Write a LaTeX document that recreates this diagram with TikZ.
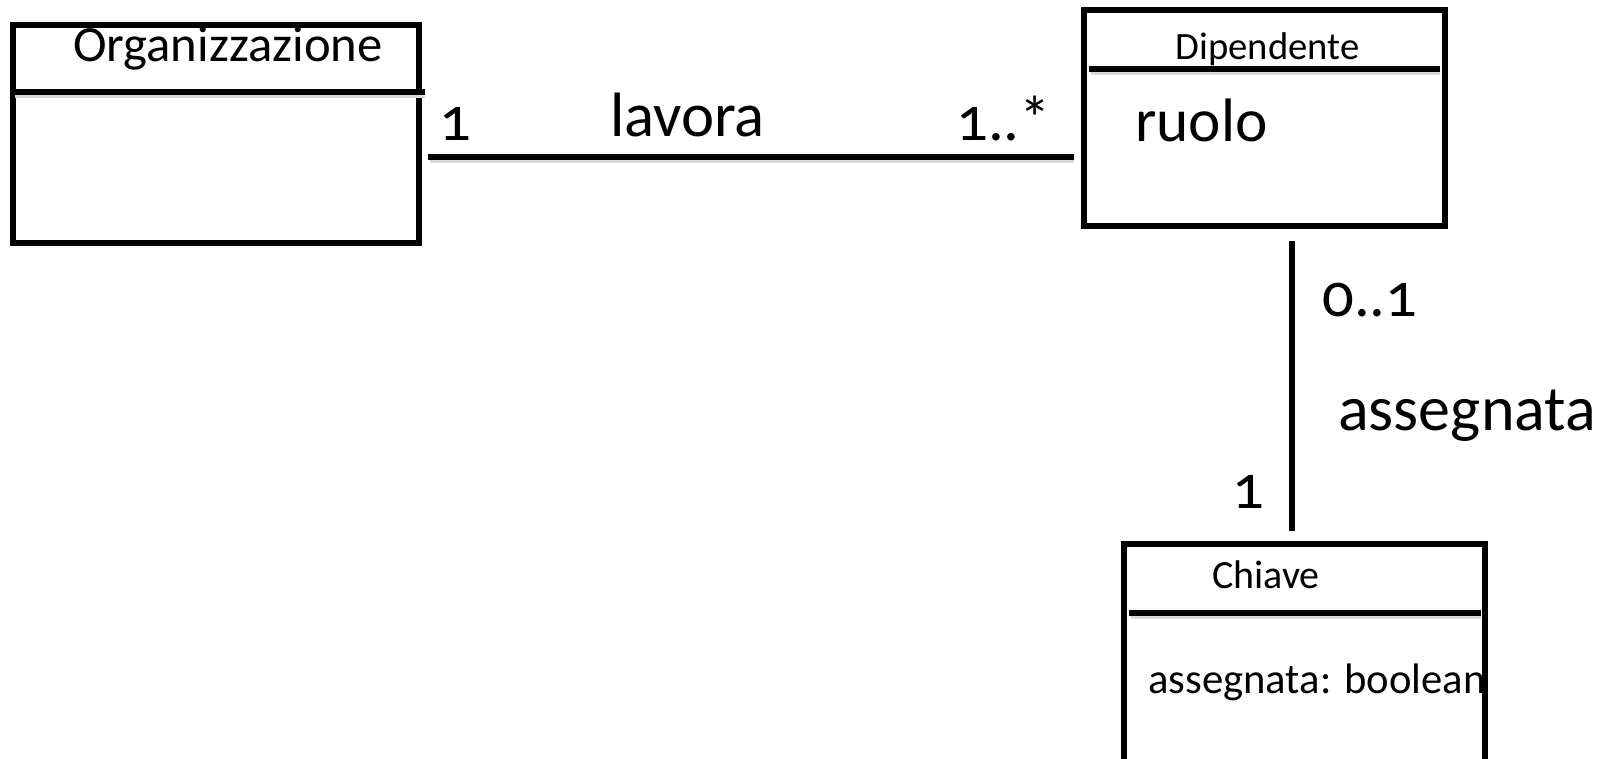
\documentclass[tikz,border=0pt]{standalone}
\usepackage{fontspec}
\usetikzlibrary{calc}
\setmainfont{Carlito}
\newfontfamily\numfont{Carlito}[Numbers=OldStyle]
\begin{document}
\begin{tikzpicture}[x=0.75pt,y=-0.75pt,
  classbox/.style={draw,line width=3.8pt,rectangle,inner sep=0pt},
  divider/.style={line width=3.8pt},
  shadowline/.style={line width=3pt,draw=black!15},
  conn/.style={line width=3.8pt},
  title/.style={inner sep=0pt,anchor=base,font=\fontsize{30pt}{36pt}\selectfont},
  big/.style={inner sep=0pt,anchor=base west,font=\fontsize{47pt}{56pt}\selectfont},
  mult/.style={inner sep=0pt,anchor=base west,font=\numfont\fontsize{47pt}{56pt}\selectfont},
  attr/.style={inner sep=0pt,anchor=base west,font=\fontsize{32pt}{38pt}\selectfont}]
\path[use as bounding box,clip] (0,0) rectangle (1607,759);
\fill[white] (0,0) rectangle (1607,759);
% class boxes
\node[classbox,minimum width=304.5pt,minimum height=163.5pt] (org) at (216,134) {};
\node[classbox,minimum width=270.75pt,minimum height=162pt] (dip) at (1264.5,118) {};
\node[classbox,minimum width=270.75pt,minimum height=184.5pt] (chi) at (1304.5,667) {};
% dividers with soft shadow
\draw[shadowline] (15,96) -- (425,96);
\draw[divider] (13,92) -- (425,92);
\draw[shadowline] (1091,73) -- (1440,73);
\draw[divider] (1089,69) -- (1440,69);
\draw[shadowline] (1131,617) -- (1481,617);
\draw[divider] (1129,613) -- (1481,613);
% titles
\node[title,font=\fontsize{38pt}{45pt}\selectfont] (torg) at (228,62) {Organizzazione};
\node[title,font=\fontsize{29pt}{35pt}\selectfont] (tdip) at (1267.5,60) {Dipendente};
\node[title] (tchi) at (1266,588) {Chiave};
% attributes
\node[big,font=\fontsize{46pt}{54pt}\selectfont] (ruolo) at (1135,142) {ruolo};
\node[attr] (abool) at (1148,693) {assegnata: boolean};
% associations
\coordinate (la) at (428,157);
\coordinate (lb) at (1074,157);
\draw[shadowline] ($(la)+(2,4)$) -- ($(lb)+(0,4)$);
\draw[conn] (la) -- (lb);
\coordinate (va) at (1292,241);
\coordinate (vb) at (1292,531);
\draw[conn] (va) -- (vb);
% labels
\node[big] (llav) at (610,137) {lavora};
\node[big,font=\fontsize{48pt}{56pt}\selectfont] (lass) at (1338,430) {assegnata};
\node[mult] (m1) at (439,141) {1};
\node[mult] (m2) at (956,141) {1..*};
\node[mult] (m3) at (1322,317) {0..1};
\node[mult] (m4) at (1232,508) {1};
\end{tikzpicture}
\end{document}
